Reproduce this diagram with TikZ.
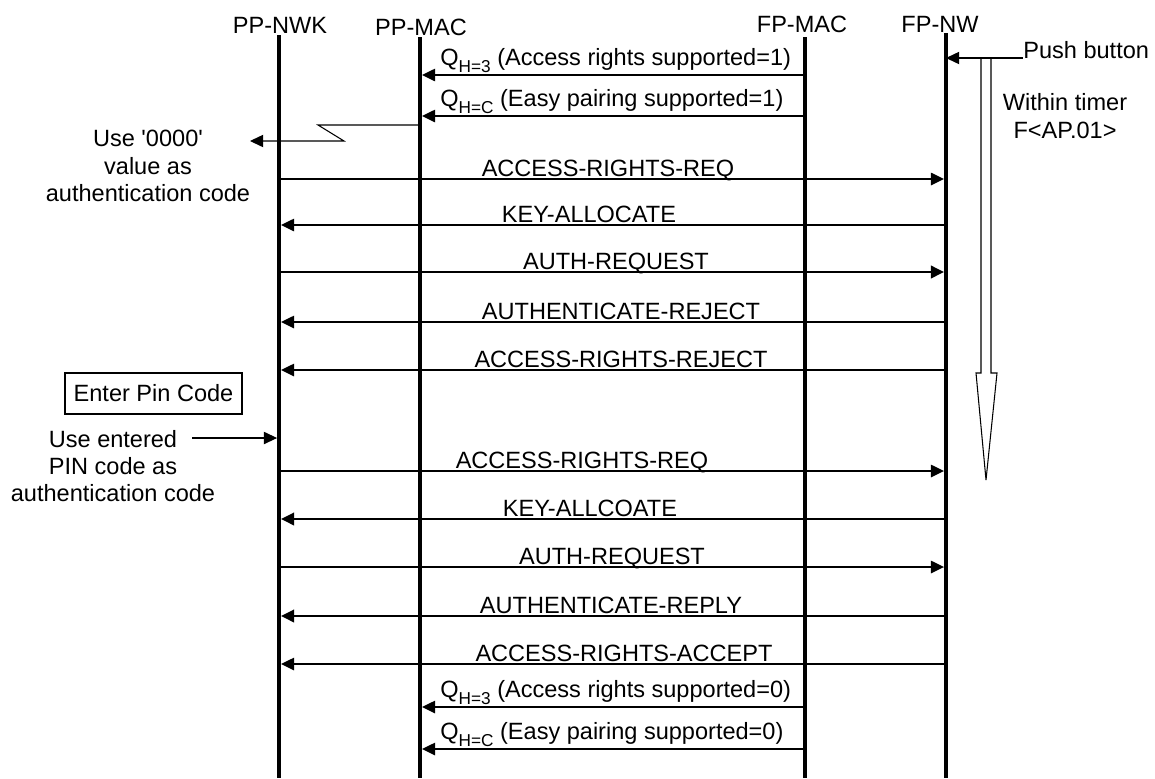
\documentclass[tikz,border=0pt]{standalone}
\usepackage{fontspec}
\setmainfont{Liberation Sans}
\newfontfamily\straightfont{Liberation Sans}
\usepackage{tikz}
\usetikzlibrary{arrows.meta}

\newcommand{\seqfont}{\fontsize{13.4}{15.6}\selectfont}
\newcommand{\qsub}[1]{Q\raisebox{-4pt}{\fontsize{9.8}{10}\selectfont #1}}

\begin{document}
\begin{tikzpicture}[x=0.02cm, y=-0.02cm,
    every node/.style={font=\seqfont, inner sep=0pt},
    lifeline/.style={line width=2.2pt},
    msg/.style={line width=1.1pt, -{Triangle[length=7.5pt, width=7pt]}},
    thin msg/.style={line width=0.6pt, -{Triangle[length=7.5pt, width=7pt]}},
    lab/.style={anchor=base}]
    \useasboundingbox (0,0) rectangle (1155,778);

    % Lifelines
    \node[anchor=base] (hdnwk) at (280,33) {PP-NWK};
    \node[anchor=base] (hdmac) at (421,35) {PP-MAC};
    \node[anchor=base] (hdfmac) at (802,32) {FP-MAC};
    \node[anchor=base] (hdfnw) at (940,32) {FP-NW};
    \coordinate (nwk) at (279,35);
    \coordinate (mac) at (420,37);
    \coordinate (fmac) at (805,37);
    \coordinate (fnw) at (946,33);
    \foreach \ll in {nwk, mac, fmac, fnw}
        \draw[lifeline] (\ll) -- (\ll |- 0,778);

    % Push button and timer
    \node[anchor=base west] (push) at (1023,58) {Push button};
    \draw[thin msg] (push.base west) -- (fnw |- push.base west);
    \draw[line width=0.6pt] (981,57) -- (981,373) -- (976,373) -- (986,480)
        -- (997,373) -- (991,373) -- (991,57);
    \node[align=center] (timer) at (1065,116) {Within timer\\F<AP.01>};

    % MAC messages (supported=1)
    \draw[msg] (fmac |- 0,75) -- ([xshift=1.1pt]mac |- 0,75);
    \node[anchor=base west] (qa1) at (440,65) {\qsub{H=3} (Access rights supported=1)};
    \draw[msg] (fmac |- 0,116) -- ([xshift=1.1pt]mac |- 0,116);
    \node[anchor=base west] (qc1) at (440,106) {\qsub{H=C} (Easy pairing supported=1)};

    % Indication up to PP-NWK
    \node[align=center] (use0) at (148,166) {Use {\straightfont '0000'}\\value as\\authentication code};
    \coordinate (zz) at (250,141);
    \draw[thin msg] (mac |- 0,125) -- (318,125) -- (344,141) -- (zz);

    % NWK messages, PP to FP
    \foreach \y/\cx/\lw/\txt in {179/608/1.1pt/ACCESS-RIGHTS-REQ,
                                  272/616/1.6pt/AUTH-REQUEST,
                                  471/582/1.1pt/ACCESS-RIGHTS-REQ,
                                  567/612/1.1pt/AUTH-REQUEST} {
        \draw[msg, line width=\lw] (nwk |- 0,\y) -- ([xshift=-1.1pt]fnw |- 0,\y);
        \node[lab] (lab\y) at (\cx,\y-3) {\txt};
    }

    % NWK messages, FP to PP
    \foreach \y/\cx/\lw/\txt in {225/589/1.1pt/KEY-ALLOCATE,
                                  322/621/1.1pt/AUTHENTICATE-REJECT,
                                  370/621/1.1pt/ACCESS-RIGHTS-REJECT,
                                  519/590/1.6pt/KEY-ALLCOATE,
                                  616/611/1.6pt/AUTHENTICATE-REPLY,
                                  664/624/1.1pt/ACCESS-RIGHTS-ACCEPT} {
        \draw[msg, line width=\lw] (fnw |- 0,\y) -- ([xshift=1.1pt]nwk |- 0,\y);
        \node[lab] (lab\y) at (\cx,\y-3) {\txt};
    }

    % Pin code entry
    \node[draw, line width=0.6pt, minimum width=177*0.02cm, minimum height=41*0.02cm] (pin) at (153.5,393.5) {Enter Pin Code};
    \node[align=center] (usepin) at (113,466) {Use entered\\PIN code as\\authentication code};
    \coordinate (pinin) at (192,438);
    \draw[thin msg] (pinin) -- ([xshift=-1.1pt]nwk |- pinin);

    % MAC messages (supported=0)
    \draw[msg] (fmac |- 0,707) -- ([xshift=1.1pt]mac |- 0,707);
    \node[anchor=base west] (qa0) at (440,697) {\qsub{H=3} (Access rights supported=0)};
    \draw[msg] (fmac |- 0,749) -- ([xshift=1.1pt]mac |- 0,749);
    \node[anchor=base west] (qc0) at (440,739) {\qsub{H=C} (Easy pairing supported=0)};
\end{tikzpicture}
\end{document}
